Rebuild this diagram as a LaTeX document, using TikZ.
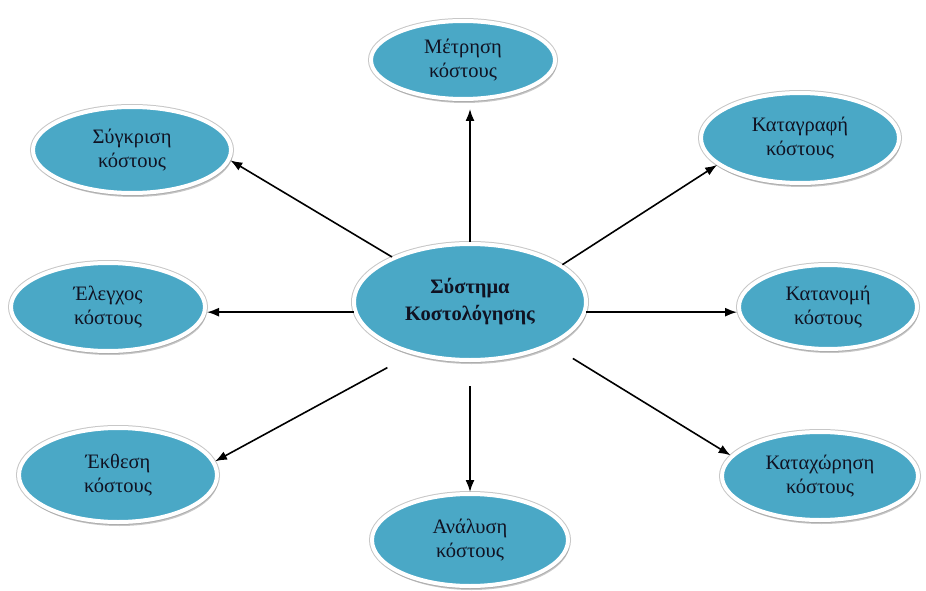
\documentclass[tikz,border=0pt]{standalone}
\usepackage{fontspec}
\setmainfont{Liberation Serif}
\usetikzlibrary{shapes.geometric,arrows.meta,shadows,calc}
\definecolor{bubble}{RGB}{74,168,198}
\definecolor{inktext}{RGB}{16,18,34}
\tikzset{
  bubblebox/.style={ellipse, fill=bubble, draw=white, line width=4pt, inner sep=0pt,
    align=center, text=inktext, font=\fontsize{20.5}{24}\selectfont,
    preaction={draw=black!22, line width=6pt},
    drop shadow={shadow xshift=1.5pt, shadow yshift=-4pt, fill=black!40, opacity=0.55}},
  link/.style={line width=1.6pt, -{Latex[length=12pt,width=9pt]}}
}
\begin{document}
\begin{tikzpicture}[x=1pt,y=-1pt]
\useasboundingbox (0,0) rectangle (926,591);

% central system node
\node[bubblebox, minimum width=232pt, minimum height=116pt, font=\fontsize{20.5}{27}\selectfont\bfseries]
  (c) at (470,302) {Σύστημα\\Κοστολόγησης};

% surrounding activities
\node[bubblebox, minimum width=184pt, minimum height=78pt] (m) at (463,60) {Μέτρηση\\κόστους};
\node[bubblebox, minimum width=198pt, minimum height=86pt] (s) at (132,150) {Σύγκριση\\κόστους};
\node[bubblebox, minimum width=198pt, minimum height=90pt] (k) at (800,138) {Καταγραφή\\κόστους};
\node[bubblebox, minimum width=194pt, minimum height=88pt] (e) at (108,307) {Έλεγχος\\κόστους};
\node[bubblebox, minimum width=178pt, minimum height=84pt] (n) at (828,307) {Κατανομή\\κόστους};
\node[bubblebox, minimum width=198pt, minimum height=94pt] (x) at (118,475) {Έκθεση\\κόστους};
\node[bubblebox, minimum width=196pt, minimum height=92pt] (a) at (470,540) {Ανάλυση\\κόστους};
\node[bubblebox, minimum width=196pt, minimum height=88pt] (h) at (820,476) {Καταχώρηση\\κόστους};

% connectors from the centre outwards
\draw[link, shorten >=8pt] (c.north) -- (c.north |- m.south);
\draw[link] (c.150) -- (s.-6);
\draw[link] (c.22) -- (k.198);
\draw[link] (c.185) -- (c.185 -| e.east);
\draw[link] (c.355) -- (c.355 -| n.west);
\draw[link, shorten <=28pt] (c.222) -- (x.8);
\draw[link, shorten <=24pt] (c.south) -- (c.south |- a.north);
\draw[link, shorten <=25pt] (c.-28) -- (h.167);
\end{tikzpicture}
\end{document}
